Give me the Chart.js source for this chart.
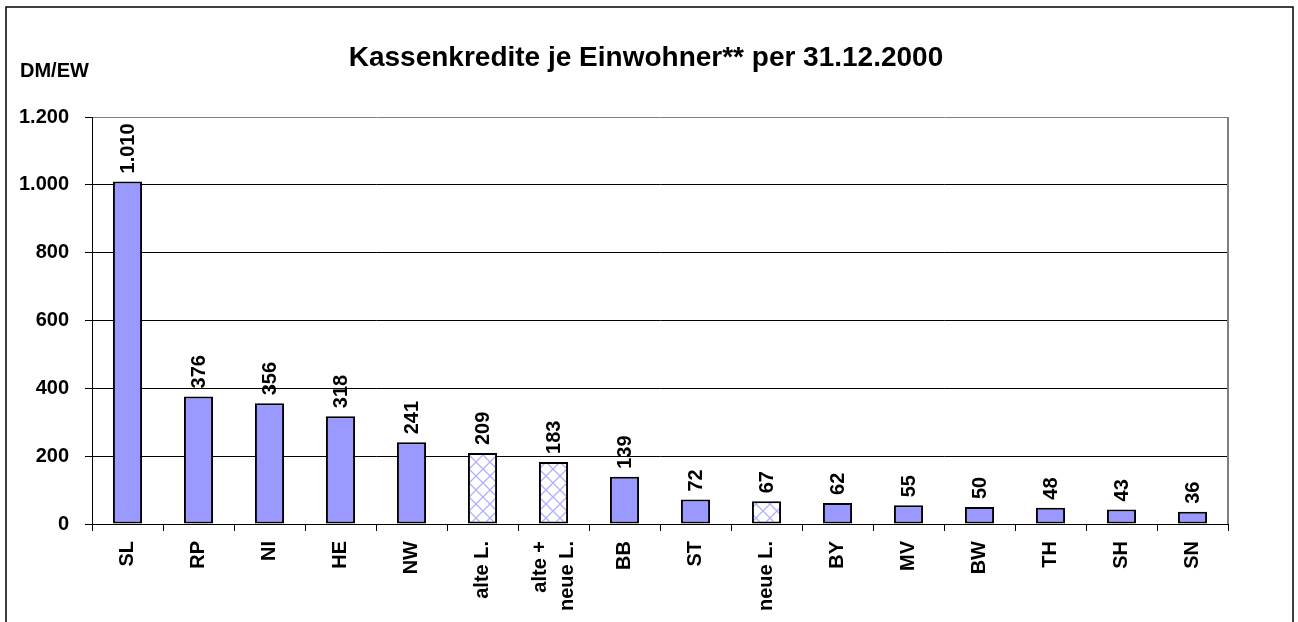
<!DOCTYPE html>
<html lang="de">
<head>
<meta charset="UTF-8">
<title>Kassenkredite je Einwohner</title>
<style>
  html, body { margin: 0; padding: 0; background: #fff; }
  .chartBox { position: relative; width: 1298px; height: 622px; }
</style>
</head>
<body>
<div class="chartBox">
  <canvas id="kassenChart"></canvas>
</div>
<script src="https://cdn.jsdelivr.net/npm/chart.js"></script>
<script>
  // data
  const laender = ['SL', 'RP', 'NI', 'HE', 'NW', 'alte L.', ['alte +', 'neue L.'], 'BB', 'ST', 'neue L.', 'BY', 'MV', 'BW', 'TH', 'SH', 'SN'];
  const kreditProEW = [1010, 376, 356, 318, 241, 209, 183, 139, 72, 67, 62, 55, 50, 48, 43, 36];
  const hatched = [false, false, false, false, false, true, true, false, false, true, false, false, false, false, false, false];
  const yTicks = [0, 200, 400, 600, 800, 1000, 1200];

  const FONT = '"Liberation Sans", Arial, sans-serif';

  function fmt(v) {
    // German thousands separator
    return String(v).replace(/\B(?=(\d{3})+(?!\d))/g, '.');
  }

  function makeHatch() {
    const c = document.createElement('canvas');
    c.width = 14; c.height = 14;
    const g = c.getContext('2d');
    g.fillStyle = '#fff';
    g.fillRect(0, 0, 14, 14);
    g.strokeStyle = '#b0b0ff';
    g.lineWidth = 1.3;
    g.beginPath();
    g.moveTo(0, 0); g.lineTo(14, 14);
    g.moveTo(14, 0); g.lineTo(0, 14);
    g.stroke();
    return g.createPattern(c, 'repeat');
  }
  const hatch = makeHatch();

  const extras = {
    id: 'extras',
    beforeDraw(chart) {
      const ctx = chart.ctx;
      ctx.save();
      ctx.strokeStyle = '#000';
      ctx.lineWidth = 1.5;
      ctx.strokeRect(6, 7, 1287, 700);
      ctx.fillStyle = '#000';
      ctx.font = 'bold 28px ' + FONT;
      ctx.textAlign = 'center';
      ctx.textBaseline = 'middle';
      ctx.fillText('Kassenkredite je Einwohner** per 31.12.2000', 646, 58);
      ctx.font = 'bold 20px ' + FONT;
      ctx.textAlign = 'left';
      ctx.fillText('DM/EW', 20, 71);
      ctx.restore();
    },
    afterDraw(chart) {
      const ctx = chart.ctx;
      const area = chart.chartArea;
      const xs = chart.scales.x;
      ctx.save();
      // plot area right edge
      ctx.strokeStyle = '#808080';
      ctx.lineWidth = 2;
      ctx.beginPath();
      ctx.moveTo(area.right, area.top);
      ctx.lineTo(area.right, area.bottom);
      ctx.stroke();

      // category labels, rotated
      ctx.fillStyle = '#000';
      ctx.font = 'bold 20px ' + FONT;
      ctx.textAlign = 'right';
      ctx.textBaseline = 'middle';
      const lh = 27;
      laender.forEach((lab, i) => {
        const lines = Array.isArray(lab) ? lab : [lab];
        const x = xs.getPixelForValue(i);
        ctx.save();
        ctx.translate(x, area.bottom + 17);
        ctx.rotate(-Math.PI / 2);
        lines.forEach((t, k) => {
          const off = (k - (lines.length - 1) / 2) * lh;
          ctx.fillText(t, 0, off);
        });
        ctx.restore();
      });

      // value labels above the bars
      const meta = chart.getDatasetMeta(0);
      ctx.textAlign = 'left';
      meta.data.forEach((bar, i) => {
        ctx.save();
        ctx.translate(bar.x, bar.y - 8);
        ctx.rotate(-Math.PI / 2);
        ctx.fillText(fmt(kreditProEW[i]), 0, 1);
        ctx.restore();
      });
      ctx.restore();
    }
  };

  const ctx = document.getElementById('kassenChart').getContext('2d');
  new Chart(ctx, {
    type: 'bar',
    data: {
      labels: laender,
      datasets: [{
        data: kreditProEW,
        backgroundColor: hatched.map(h => h ? hatch : '#9999ff'),
        borderColor: '#000',
        borderWidth: 2,
        borderSkipped: false,
        barPercentage: 0.41,
        categoryPercentage: 1
      }]
    },
    options: {
      responsive: true,
      maintainAspectRatio: false,
      animation: false,
      layout: { padding: { top: 117, right: 70, left: 0, bottom: 0 } },
      plugins: {
        legend: { display: false },
        title: { display: false },
        tooltip: { enabled: false }
      },
      scales: {
        x: {
          grid: { display: true, drawOnChartArea: false, offset: true, tickLength: 7, color: '#000', lineWidth: 1 },
          border: { color: '#000', width: 1 },
          ticks: { display: false },
          afterFit(s) { s.height = 98; }
        },
        y: {
          min: 0,
          max: 1200,
          afterBuildTicks(s) { s.ticks = yTicks.map(v => ({ value: v })); },
          grid: {
            color: c => (c.tick && c.tick.value === 1200) ? '#808080' : '#000',
            tickColor: '#000',
            lineWidth: 1,
            tickLength: 7
          },
          border: { color: '#000', width: 1 },
          ticks: {
            padding: 16,
            color: '#000',
            font: { family: FONT, size: 20, weight: 'bold' },
            callback: v => fmt(v)
          },
          afterFit(s) { s.width = 92; }
        }
      }
    },
    plugins: [extras]
  });
</script>
</body>
</html>
